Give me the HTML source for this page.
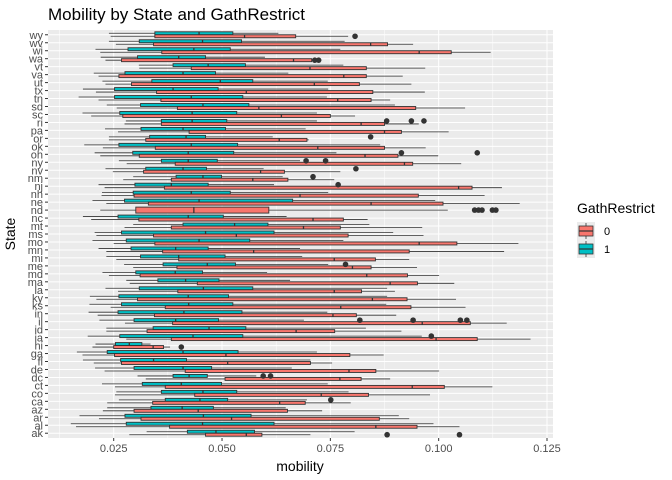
<!DOCTYPE html>
<html><head><meta charset="utf-8">
<style>
html,body{margin:0;padding:0;background:#fff;}
svg{display:block;font-family:"Liberation Sans",Arial,sans-serif;}
</style></head>
<body>
<svg id="chart" width="672" height="480" viewBox="0 0 672 480">
<text x="48" y="20" font-size="17" fill="#000">Mobility by State and GathRestrict</text>
<rect x="48" y="30" width="505" height="408" fill="#ebebeb"/>
<g id="grid"></g>
<g id="marks"></g>
<g id="yaxis"></g>
<g id="xaxis"></g>
<text x="300" y="471" font-size="14" text-anchor="middle">mobility</text>
<text transform="translate(15,234) rotate(-90)" font-size="14" text-anchor="middle">State</text>
<g>
<text x="577" y="213" font-size="14">GathRestrict</text>
<g>
<rect x="577" y="222" width="18" height="18" fill="#ebebeb"/>
<line x1="586" y1="223" x2="586" y2="239" stroke="#333" stroke-width="0.8"/>
<rect x="579" y="226" width="14" height="10" fill="#F8766D" stroke="#333" stroke-width="0.8"/>
<line x1="579" y1="231" x2="593" y2="231" stroke="#333" stroke-width="1.2"/>
<text x="604" y="235" font-size="11" fill="#000">0</text>
</g>
<g>
<rect x="577" y="240" width="18" height="18" fill="#ebebeb"/>
<line x1="586" y1="241" x2="586" y2="257" stroke="#333" stroke-width="0.8"/>
<rect x="579" y="244" width="14" height="10" fill="#00BFC4" stroke="#333" stroke-width="0.8"/>
<line x1="579" y1="249" x2="593" y2="249" stroke="#333" stroke-width="1.2"/>
<text x="604" y="253" font-size="11" fill="#000">1</text>
</g>
</g>
</svg>
<script>
const states = ["ak","al","ar","az","ca","co","ct","dc","de","fl","ga","hi","ia","id","il","in","ks","ky","la","ma","md","me","mi","mn","mo","ms","mt","nc","nd","ne","nh","nj","nm","nv","ny","oh","ok","or","pa","ri","sc","sd","tn","tx","ut","va","vt","wa","wi","wv","wy"];
// [lower whisker, q1, median, q3, upper whisker] for GathRestrict = 0
const stats0 = [
[0.0286,0.0462,0.0556,0.0592,0.0704],[0.0163,0.0379,0.0855,0.0950,0.1048],[0.0216,0.0313,0.0522,0.0863,0.0932],
[0.0225,0.0297,0.0445,0.0651,0.0731],[0.0235,0.0340,0.0633,0.0692,0.0797],[0.0253,0.0437,0.0729,0.0838,0.0980],
[0.0253,0.0369,0.0939,0.1013,0.1124],[0.0324,0.0507,0.0772,0.0821,0.0888],[0.0229,0.0415,0.0793,0.0855,0.1001],
[0.0204,0.0268,0.0513,0.0704,0.0754],[0.0178,0.0252,0.0509,0.0795,0.0873],[0.0201,0.0250,0.0341,0.0365,0.0380],
[0.0279,0.0383,0.0994,0.1089,0.1212],[0.0233,0.0327,0.0671,0.0760,0.0914],[0.0276,0.0386,0.0962,0.1073,0.1157],
[0.0213,0.0344,0.0756,0.0810,0.0902],[0.0243,0.0369,0.0774,0.0936,0.1062],[0.0210,0.0305,0.0847,0.0927,0.1040],
[0.0260,0.0398,0.0759,0.0822,0.0899],[0.0287,0.0443,0.0888,0.0951,0.1036],[0.0239,0.0311,0.0834,0.0928,0.1001],
[0.0295,0.0396,0.0801,0.0844,0.0950],[0.0256,0.0400,0.0759,0.0854,0.0932],[0.0233,0.0363,0.0573,0.0932,0.1151],
[0.0250,0.0345,0.0955,0.1042,0.1184],[0.0210,0.0342,0.0533,0.0791,0.0965],[0.0275,0.0383,0.0688,0.0773,0.0962],
[0.0198,0.0308,0.0710,0.0780,0.0836],[0.0219,0.0301,0.0435,0.0608,0.1021],[0.0233,0.0330,0.0844,0.1010,0.1187],
[0.0222,0.0297,0.0680,0.0953,0.1106],[0.0229,0.0367,0.1046,0.1077,0.1146],[0.0272,0.0383,0.0571,0.0652,0.0759],
[0.0248,0.0319,0.0589,0.0644,0.0773],[0.0280,0.0392,0.0921,0.0940,0.1052],[0.0219,0.0309,0.0830,0.0906,0.0999],
[0.0225,0.0346,0.0721,0.0875,0.0970],[0.0239,0.0324,0.0632,0.0696,0.0700],[0.0260,0.0424,0.0875,0.0914,0.1023],
[0.0275,0.0360,0.0821,0.0875,0.0954],[0.0198,0.0271,0.0637,0.0750,0.0807],[0.0257,0.0397,0.0585,0.0947,0.1061],
[0.0215,0.0359,0.0767,0.0844,0.0888],[0.0209,0.0349,0.0556,0.0848,0.0968],[0.0231,0.0291,0.0713,0.0817,0.0937],
[0.0215,0.0262,0.0781,0.0833,0.0917],[0.0309,0.0429,0.0703,0.0833,0.0969],[0.0231,0.0268,0.0665,0.0707,0.0707],
[0.0219,0.0361,0.0955,0.1029,0.1120],[0.0255,0.0342,0.0843,0.0882,0.0941],[0.0243,0.0345,0.0552,0.0670,0.0791]
];
// GathRestrict = 1 (null where the state has no such observations)
const stats1 = [
[0.0326,0.0420,0.0486,0.0575,0.0806],[0.0151,0.0279,0.0455,0.0620,0.0988],[0.0171,0.0276,0.0457,0.0567,0.0908],
[0.0235,0.0336,0.0408,0.0480,0.0647],[0.0262,0.0369,0.0449,0.0513,0.0696],[0.0256,0.0360,0.0456,0.0534,0.0792],
[0.0223,0.0316,0.0406,0.0499,0.0744],[0.0305,0.0387,0.0424,0.0466,0.0579],[0.0207,0.0297,0.0410,0.0476,0.0661],
[0.0179,0.0266,0.0342,0.0418,0.0704],[0.0165,0.0235,0.0410,0.0537,0.0719],[0.0208,0.0254,0.0286,0.0315,0.0335],
[0.0190,0.0264,0.0433,0.0548,0.0961],[0.0233,0.0341,0.0470,0.0555,0.0832],[0.0217,0.0297,0.0393,0.0492,0.0689],
[0.0192,0.0260,0.0412,0.0546,0.0743],[0.0194,0.0268,0.0423,0.0525,0.0879],[0.0195,0.0262,0.0422,0.0515,0.0881],
[0.0231,0.0309,0.0457,0.0571,0.0881],[0.0279,0.0352,0.0416,0.0493,0.0657],[0.0224,0.0301,0.0392,0.0455,0.0604],
[0.0274,0.0364,0.0466,0.0531,0.0745],[0.0233,0.0312,0.0400,0.0507,0.0685],[0.0215,0.0290,0.0393,0.0468,0.0680],
[0.0201,0.0279,0.0447,0.0564,0.0780],[0.0206,0.0268,0.0462,0.0620,0.0895],[0.0295,0.0410,0.0529,0.0606,0.0840],
[0.0179,0.0260,0.0422,0.0503,0.0649],null,[0.0201,0.0275,0.0447,0.0663,0.0992],
[0.0223,0.0295,0.0429,0.0519,0.0745],[0.0215,0.0299,0.0383,0.0468,0.0620],[0.0295,0.0394,0.0456,0.0499,0.0640],
[0.0231,0.0324,0.0410,0.0464,0.0596],[0.0262,0.0360,0.0422,0.0489,0.0680],[0.0206,0.0294,0.0422,0.0527,0.0764],
[0.0182,0.0262,0.0429,0.0536,0.0865],[0.0239,0.0333,0.0417,0.0462,0.0617],[0.0230,0.0313,0.0410,0.0508,0.0693],
[0.0278,0.0360,0.0431,0.0511,0.0719],[0.0178,0.0264,0.0431,0.0534,0.0719],[0.0234,0.0312,0.0456,0.0562,0.0899],
[0.0169,0.0252,0.0429,0.0548,0.0742],[0.0179,0.0252,0.0387,0.0491,0.0745],[0.0224,0.0338,0.0496,0.0571,0.0744],
[0.0204,0.0276,0.0410,0.0485,0.0653],[0.0308,0.0387,0.0468,0.0554,0.0780],[0.0220,0.0305,0.0400,0.0462,0.0599],
[0.0208,0.0283,0.0435,0.0519,0.0773],[0.0239,0.0309,0.0455,0.0545,0.0783],[0.0239,0.0345,0.0447,0.0525,0.0630]
];
const outlierStates = ["ak","ak","hi","nd","nd","nd","nd","nd","wa","wa","wy",
  "ca","dc","dc","ia","il","il","il","il","me","nj","nm","nv","ny","ny","oh","oh","or","ri","ri","ri"];
const outlierGroups = [0,0,0,0,0,0,0,0,0,0,0, 1,1,1,1,1,1,1,1,1,1,1,1,1,1,1,1,1,1,1,1];
const outlierValues = [0.0881,0.1048,0.0406,0.1083,0.1092,0.1100,0.1124,0.1132,0.0714,0.0723,0.0807,
  0.0751,0.0595,0.0612,0.0983,0.0818,0.0941,0.1050,0.1065,0.0785,0.0768,0.0710,0.0809,0.0694,0.0739,0.0914,0.1089,0.0843,0.0880,0.0937,0.0966];
const xTicks = [0.025,0.050,0.075,0.100,0.125];
const xTickLabels = ["0.025","0.050","0.075","0.100","0.125"];

const NS="http://www.w3.org/2000/svg";
const PL=48, PR=553, PT=30, PB=438;
const X0=0.025, XPX0=113.7, XSCALE=4333;
function xs(v){return XPX0+(v-X0)*XSCALE;}
const STEP=(PB-PT)/(states.length-1+1.2);
function ys(i){return PB-0.6*STEP-i*STEP;}
function mk(tag,attrs,parent){const e=document.createElementNS(NS,tag);for(const k in attrs)e.setAttribute(k,attrs[k]);parent.appendChild(e);return e;}
const grid=document.getElementById('grid'), marks=document.getElementById('marks');
const yaxis=document.getElementById('yaxis'), xaxis=document.getElementById('xaxis');
for(let k=0;k<xTicks.length+1;k++){
  const v=xTicks[0]-0.0125+k*0.025; const x=xs(v);
  if(x>PL&&x<PR){const l=mk('line',{x1:x,x2:x,y1:PT,y2:PB,stroke:'#fff','stroke-width':0.5},grid);
  
  }
}
xTicks.forEach((v,k)=>{
  const x=xs(v);
  const l=mk('line',{x1:x,x2:x,y1:PT,y2:PB,stroke:'#fff','stroke-width':1},grid);
  
  
  const t=mk('line',{x1:x,x2:x,y1:PB,y2:PB+3,stroke:'#333','stroke-width':1},xaxis);
  
  
  const tx=mk('text',{x:x,y:PB+14,'font-size':11,'text-anchor':'middle',fill:'#4d4d4d'},xaxis);
  tx.textContent=xTickLabels[k];
  
  
});
states.forEach((s,i)=>{
  const y=ys(i);
  const l=mk('line',{x1:PL,x2:PR,y1:y,y2:y,stroke:'#fff','stroke-width':1},grid);
  
  
  const t=mk('line',{x1:PL-3,x2:PL,y1:y,y2:y,stroke:'#333','stroke-width':1},yaxis);
  
  
  const tx=mk('text',{x:PL-5,y:y+4,'font-size':11,'text-anchor':'end',fill:'#4d4d4d'},yaxis);
  tx.textContent=s;
  
  
});
function drawBox(st,yc,h,fill,name){
  const g=mk('g',{},marks);
  
  
  mk('line',{x1:xs(st[0]),x2:xs(st[1]),y1:yc,y2:yc,stroke:'#333','stroke-width':0.8},g);
  mk('line',{x1:xs(st[3]),x2:xs(st[4]),y1:yc,y2:yc,stroke:'#333','stroke-width':0.8},g);
  mk('rect',{x:xs(st[1]),y:yc-h/2,width:Math.max(0.5,xs(st[3])-xs(st[1])),height:h,fill:fill,stroke:'#333','stroke-width':0.9},g);
  mk('line',{x1:xs(st[2]),x2:xs(st[2]),y1:yc-h/2,y2:yc+h/2,stroke:'#333','stroke-width':1.3},g);
}
const BW=0.75*STEP;
states.forEach((s,i)=>{
  const y=ys(i);
  const a=stats0[i], b=stats1[i];
  if(a&&b){
    drawBox(b,y-BW/4,BW/2,'#00BFC4','box-'+s+'-1');
    drawBox(a,y+BW/4,BW/2,'#F8766D','box-'+s+'-0');
  } else if(a){ drawBox(a,y,BW,'#F8766D','box-'+s+'-0'); }
  else if(b){ drawBox(b,y,BW,'#00BFC4','box-'+s+'-1'); }
});
outlierValues.forEach((v,k)=>{
  const i=states.indexOf(outlierStates[k]);
  const both=stats0[i]&&stats1[i];
  const off=both?(outlierGroups[k]===1?-BW/4:BW/4):0;
  const c=mk('circle',{cx:xs(v),cy:ys(i)+off,r:2.8,fill:'#333'},marks);
  
  
});
</script>
</body></html>
